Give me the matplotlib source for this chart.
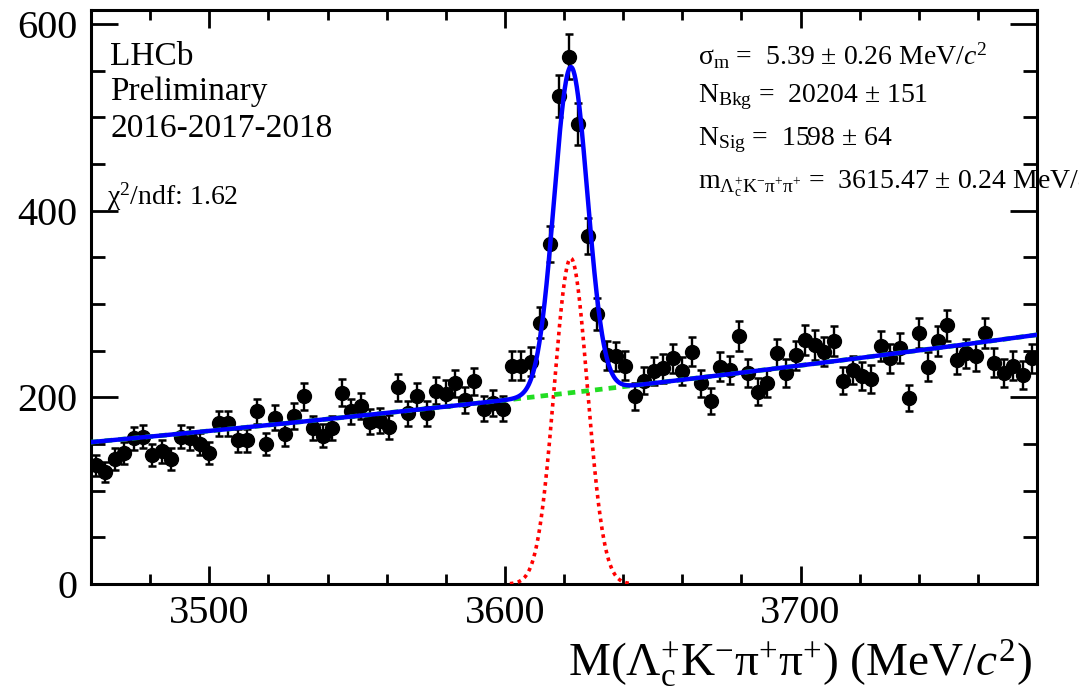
import numpy as np
import matplotlib
matplotlib.use('Agg')
import matplotlib.pyplot as plt
from matplotlib.ticker import MultipleLocator

plt.rcParams['font.family'] = ['Liberation Serif', 'DejaVu Serif']
plt.rcParams['mathtext.fontset'] = 'custom'
plt.rcParams['mathtext.rm'] = 'Liberation Serif'
plt.rcParams['mathtext.it'] = 'Liberation Serif:italic'
plt.rcParams['mathtext.bf'] = 'Liberation Serif:bold'

# ---------------- data ----------------
mass_lo, mass_hi, n_bins = 3460.0, 3780.0, 100
counts = [
    127, 120, 134, 140, 156, 158, 138, 142, 134, 158,
    156, 150, 140, 172, 172, 154, 154, 185, 150, 178,
    161, 180, 201, 167, 159, 167, 205, 185, 191, 174,
    175, 168, 211, 183, 201, 183, 207, 204, 215, 197,
    217, 188, 194, 188, 234, 234, 238, 280, 364, 523,
    565, 493, 373, 289, 245, 244, 234, 201, 218, 228,
    231, 242, 228, 249, 215, 196, 233, 229, 266, 226,
    206, 215, 247, 226, 245, 261, 256, 249, 260, 218,
    229, 223, 220, 255, 242, 253, 199, 269, 233, 260,
    277, 240, 247, 244, 269, 237, 226, 234, 224, 242,
]
x_ticks = [3500, 3600, 3700]
y_ticks = [0, 200, 400, 600]

# fit model parameters (signal Gaussian + quadratic background)
sig_mean, sig_sigma, sig_peak = 3622.3, 5.6, 349.0
bkg_c0, bkg_c1, bkg_c2 = 152.0, 0.2919, 2.108e-4

left_text = ['LHCb', 'Preliminary', '2016-2017-2018']
chi2_text = r'χ$^{2}$/ndf: 1.62'
fit_text = [
    r'σ$_{\mathrm{m}}$ =  5.39 ± 0.26 MeV/$c^{2}$',
    r'N$_{\mathrm{Bkg}}$ =  20204 ± 151',
    r'N$_{\mathrm{Sig}}$ =  1598 ± 64',
    r'm$_{\mathrm{\Lambda_{c}^{+}K^{-}\pi^{+}\pi^{+}}}$ =  3615.47 ± 0.24 MeV/$c^{2}$',
]
x_label = r'M($\mathrm{\Lambda_{c}^{+}}$K$^{-}\mathrm{\pi^{+}\pi^{+}}$) (MeV/$c^{2}$)'

# ---------------- derived ----------------
counts = np.array(counts, dtype=float)
bw = (mass_hi - mass_lo) / n_bins
centers = mass_lo + bw * (np.arange(n_bins) + 0.5)
errors = np.sqrt(counts)

xf = np.linspace(mass_lo, mass_hi, 3000)
bkg = bkg_c0 + bkg_c1 * (xf - mass_lo) + bkg_c2 * (xf - mass_lo) ** 2
sig = sig_peak * np.exp(-0.5 * ((xf - sig_mean) / sig_sigma) ** 2)
tot = bkg + sig
sig_vis = sig > 0.4

# ---------------- figure ----------------
W, H = 1079, 689
fig = plt.figure(figsize=(W / 100, H / 100), dpi=100)
x0, x1, y0, y1 = 91, 1037, 10, 584
ax = fig.add_axes([x0 / W, 1 - y1 / H, (x1 - x0) / W, (y1 - y0) / H])

ax.errorbar(centers, counts, yerr=errors, fmt='o', color='black', ms=10,
            capsize=3.0, elinewidth=1.7, capthick=1.8, zorder=2)
ax.plot(xf[sig_vis], sig[sig_vis], color='red', lw=2.6, ls=(0, (1, 1.2)), zorder=3)
ax.plot(xf, bkg, color='#22dd22', lw=3.4, ls=(0, (1.6, 1.3)), zorder=3)
ax.plot(xf, tot, color='#0000ff', lw=3.2, zorder=4)

ax.set_xlim(mass_lo, mass_hi)
ax.set_ylim(0, 615)
ax.set_xticks(x_ticks)
ax.set_yticks(y_ticks)
ax.xaxis.set_minor_locator(MultipleLocator(20))
ax.yaxis.set_minor_locator(MultipleLocator(50))
ax.tick_params(which='both', direction='in', top=True, right=True, width=2)
ax.tick_params(axis='y', which='major', length=19.5, labelsize=29, pad=10)
ax.tick_params(axis='y', which='minor', length=10)
ax.tick_params(axis='x', which='major', length=13, labelsize=29, pad=8)
ax.tick_params(axis='x', which='minor', length=7)
for s in ax.spines.values():
    s.set_linewidth(2.2)

# texts
for t, yb in zip(left_text, [65, 100, 137]):
    fig.text(110 / W, 1 - yb / H, t, fontsize=24, va='baseline', ha='left')
fig.text(107 / W, 1 - 205 / H, chi2_text, fontsize=20, va='baseline', ha='left')

for t, yb in zip(fit_text, [65, 102, 145, 188]):
    fig.text(698 / W, 1 - yb / H, t, fontsize=20, va='baseline', ha='left')

fig.text(1032 / W, 1 - 676 / H, x_label, fontsize=34, va='baseline', ha='right')

fig.savefig('out.png', dpi=100)
